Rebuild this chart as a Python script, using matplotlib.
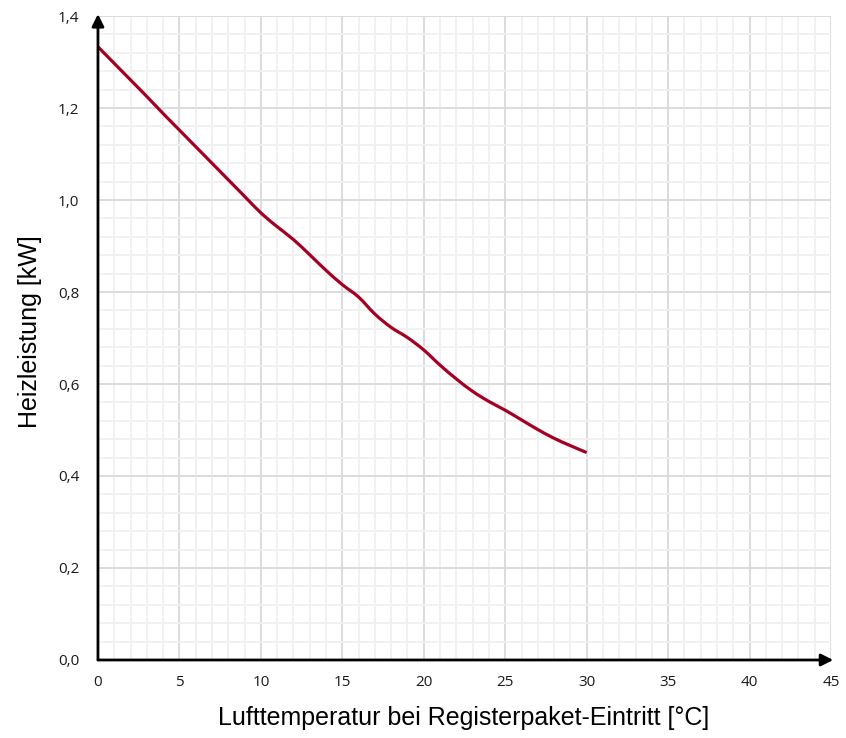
import numpy as np
import matplotlib.pyplot as plt
from matplotlib.path import Path
from matplotlib.patches import PathPatch
from matplotlib.ticker import MultipleLocator, FuncFormatter

# Daten
temp = [0, 1, 2, 3, 4, 5, 6, 7, 8, 9, 10, 11, 12, 13, 14, 15,
        16, 17, 18, 19, 20, 21, 22, 23, 24, 25, 26, 27, 28, 29, 30]
leistung = [1.333, 1.297, 1.261, 1.225, 1.188, 1.152, 1.116, 1.080, 1.044, 1.008,
            0.972, 0.942, 0.914, 0.881, 0.847, 0.816, 0.789, 0.752, 0.723, 0.701,
            0.674, 0.641, 0.611, 0.584, 0.562, 0.543, 0.522, 0.501, 0.482, 0.466, 0.451]

fig = plt.figure(figsize=(8.46, 7.38), dpi=100)
ax = fig.add_axes([0.1158, 0.1057, 0.8665, 0.8726])

# geglaettete Linie wie in Excel (Bezier durch die Punkte)
x = np.array(temp, dtype=float)
y = np.array(leistung)
verts = [(x[0], y[0])]
codes = [Path.MOVETO]
for i in range(len(x) - 1):
    x0, y0 = (x[i - 1], y[i - 1]) if i > 0 else (x[i], y[i])
    x3, y3 = (x[i + 2], y[i + 2]) if i + 2 < len(x) else (x[i + 1], y[i + 1])
    c1 = (x[i] + (x[i + 1] - x0) / 6, y[i] + (y[i + 1] - y0) / 6)
    c2 = (x[i + 1] - (x3 - x[i]) / 6, y[i + 1] - (y3 - y[i]) / 6)
    verts += [c1, c2, (x[i + 1], y[i + 1])]
    codes += [Path.CURVE4] * 3
ax.add_patch(PathPatch(Path(verts, codes), facecolor='none', edgecolor='#A50021',
                       linewidth=2.3, capstyle='butt', zorder=3))

ax.set_xlim(0, 45)
ax.set_ylim(0, 1.4)
ax.xaxis.set_major_locator(MultipleLocator(5))
ax.xaxis.set_minor_locator(MultipleLocator(1))
ax.yaxis.set_major_locator(MultipleLocator(0.2))
ax.yaxis.set_minor_locator(MultipleLocator(0.04))
ax.yaxis.set_major_formatter(FuncFormatter(lambda v, p: f"{v:.1f}".replace('.', ',')))

ax.grid(which='major', color='#D9D9D9', linewidth=1.3)
ax.grid(which='minor', color='#F0F0F0', linewidth=1.3)
ax.set_axisbelow(True)

for s in ['top', 'right', 'left', 'bottom']:
    ax.spines[s].set_visible(False)

ax.tick_params(which='both', length=0)
ax.tick_params(axis='x', pad=11)
ax.tick_params(axis='y', pad=13.5)
for lab in ax.get_xticklabels() + ax.get_yticklabels():
    lab.set_fontfamily('Open Sans')
    lab.set_fontsize(11)
    lab.set_color('#1a1a1a')

# Achsen mit Pfeilen
ax.annotate('', xy=(1.003, 0), xytext=(0, 0), xycoords='axes fraction',
            arrowprops=dict(arrowstyle='-|>', color='black', lw=2, mutation_scale=18,
                            shrinkA=0, shrinkB=0), annotation_clip=False)
ax.annotate('', xy=(0, 1.003), xytext=(0, 0), xycoords='axes fraction',
            arrowprops=dict(arrowstyle='-|>', color='black', lw=2, mutation_scale=18,
                            shrinkA=0, shrinkB=0), annotation_clip=False)

fig.text(0.548, 0.027, 'Lufttemperatur bei Registerpaket-Eintritt [°C]',
         fontfamily='Liberation Sans', fontsize=18, ha='center', va='center')
fig.text(0.036, 0.55, 'Heizleistung [kW]', fontfamily='Liberation Sans', fontsize=18,
         ha='center', va='center', rotation=90)

fig.savefig('out.png', dpi=100)
